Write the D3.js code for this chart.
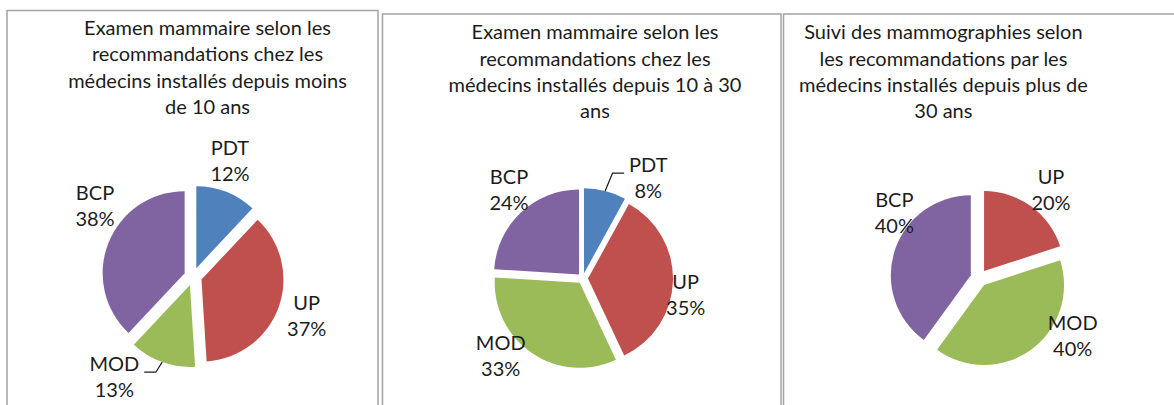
<!DOCTYPE html>
<html>
<head>
<meta charset="utf-8">
<script src="https://cdn.jsdelivr.net/npm/d3@7"></script>
<style>
  html, body { margin: 0; padding: 0; background: #fff; }
  svg { display: block; }
  text { font-family: Lato, "Noto Sans", sans-serif; fill: #1c1c1c; }
</style>
</head>
<body>
<svg id="chart" width="1174" height="405"></svg>
<script>
// Categories shared by the three pies
const categories = ["PDT", "UP", "MOD", "BCP"];

// Share of physicians (%) per category, by years since installation
const valuesUnder10 = [12, 37, 13, 38];
const values10to30 = [8, 35, 33, 24];
const valuesOver30 = [0, 20, 40, 40];

// Chart titles, one line per entry
const titleUnder10 = ["Examen mammaire selon les", "recommandations chez les", "médecins installés depuis moins", "de 10 ans"];
const title10to30 = ["Examen mammaire selon les", "recommandations chez les", "médecins installés depuis 10 à 30", "ans"];
const titleOver30 = ["Suivi des mammographies selon", "les recommandations par les", "médecins installés depuis plus de", "30 ans"];

const sliceColors = ["#4F81BD", "#C0504D", "#9BBB59", "#8064A2"];

// Layout of each panel: frame, title anchor, pie geometry, label offsets from pie centre
const panels = [
  {
    values: valuesUnder10, title: titleUnder10,
    frame: { x: 7, y: 10.5, w: 371 },
    titleX: 207.5, titleY: 35,
    cx: 193, cy: 276.5, r: 82, explode: 9,
    labels: [[37, -121.5], [113.7, 33.5], [-78.7, 94.2], [-98, -76.5]],
    leader: [false, false, true, false]
  },
  {
    values: values10to30, title: title10to30,
    frame: { x: 382.5, y: 14, w: 398.5 },
    titleX: 595, titleY: 39.3,
    cx: 582.7, cy: 278.4, r: 85, explode: 5.3,
    labels: [[65.6, -106.7], [103, 10.6], [-82, 71.6], [-73.7, -94.1]],
    leader: [true, false, false, false]
  },
  {
    values: valuesOver30, title: titleOver30,
    frame: { x: 783.5, y: 14, w: 400 },
    titleX: 943.4, titleY: 39.3,
    cx: 979, cy: 278, r: 80, explode: 8.6,
    labels: [[0, 0], [72, -94], [93.7, 52], [-84.7, -71.3]],
    leader: [false, false, false, false]
  }
];

const svg = d3.select("#chart");
const fontSize = 20;
const lineStep = 26.3;
const labelStep = 26;

const pie = d3.pie().sort(null).value(d => d.value);
const color = d3.scaleOrdinal().domain(categories).range(sliceColors);

panels.forEach(p => {
  // frame (open at the bottom: it continues past the visible area)
  svg.append("rect")
    .attr("x", p.frame.x).attr("y", p.frame.y)
    .attr("width", p.frame.w).attr("height", 440)
    .attr("fill", "none")
    .attr("stroke", "#a3a3a3")
    .attr("stroke-width", 1.5);

  // title
  const t = svg.append("text")
    .attr("text-anchor", "middle")
    .style("font-size", fontSize + "px");
  p.title.forEach((line, i) => {
    t.append("tspan").attr("x", p.titleX).attr("y", p.titleY + i * lineStep).text(line);
  });

  const data = categories.map((c, i) => ({ category: c, value: p.values[i], label: p.labels[i], leader: p.leader[i] }));
  const arcs = pie(data);
  const arc = d3.arc().innerRadius(0).outerRadius(p.r);

  const g = svg.append("g").attr("transform", `translate(${p.cx},${p.cy})`);

  // exploded slices
  g.selectAll("path.slice")
    .data(arcs.filter(a => a.data.value > 0))
    .join("path")
    .attr("class", "slice")
    .attr("d", arc)
    .attr("fill", a => color(a.data.category))
    .attr("transform", a => {
      const m = (a.startAngle + a.endAngle) / 2;
      return `translate(${p.explode * Math.sin(m)},${-p.explode * Math.cos(m)})`;
    });

  // data labels: category name and percentage
  arcs.filter(a => a.data.value > 0).forEach(a => {
    const [lx, ly] = a.data.label;
    const lab = g.append("text")
      .attr("text-anchor", "middle")
      .style("font-size", fontSize + "px");
    const first = lab.append("tspan").attr("x", lx).attr("y", ly).text(a.data.category);
    lab.append("tspan").attr("x", lx).attr("y", ly + labelStep).text(a.data.value + "%");

    if (a.data.leader) {
      const m = (a.startAngle + a.endAngle) / 2;
      const re = p.r + p.explode;
      const ex = re * Math.sin(m), ey = -re * Math.cos(m);
      const w = first.node().getComputedTextLength();
      const side = ex > lx ? 1 : -1;
      const x0 = lx + side * (w / 2 + 5);
      const y0 = ly + 1.5;
      const x1 = x0 + side * 11.6;
      g.append("path")
        .attr("d", d3.line()([[x0, y0], [x1, y0], [ex, ey]]))
        .attr("fill", "none")
        .attr("stroke", "#1c1c1c")
        .attr("stroke-width", 1.2);
    }
  });
});
</script>
</body>
</html>
